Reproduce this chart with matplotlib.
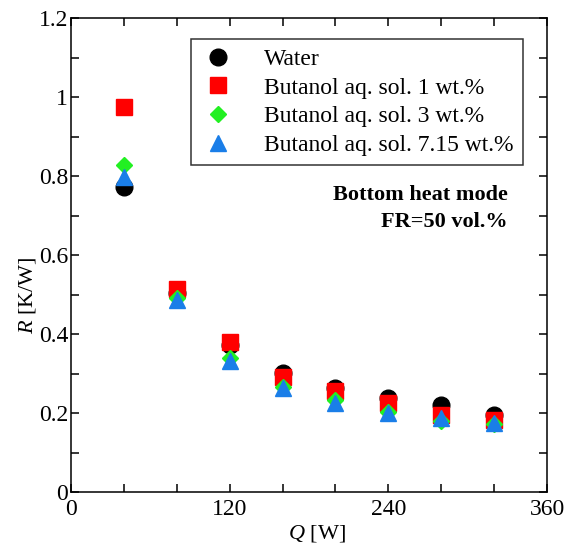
import matplotlib
matplotlib.use("Agg")
import matplotlib.pyplot as plt
from matplotlib.ticker import MultipleLocator, FuncFormatter

# heat input [W]
q = [40, 80, 120, 160, 200, 240, 280, 320]

# thermal resistance [K/W]
r_water = [0.773, 0.505, 0.372, 0.301, 0.264, 0.239, 0.220, 0.194]
r_but1 = [0.975, 0.514, 0.380, 0.292, 0.256, 0.226, 0.195, 0.182]
r_but3 = [0.828, 0.490, 0.340, 0.266, 0.232, 0.202, 0.180, 0.172]
r_but715 = [0.798, 0.486, 0.332, 0.263, 0.226, 0.199, 0.187, 0.175]

labels = ["Water", "Butanol aq. sol. 1 wt.%", "Butanol aq. sol. 3 wt.%",
          "Butanol aq. sol. 7.15 wt.%"]

plt.rcParams["font.family"] = ["Liberation Serif", "DejaVu Serif"]
plt.rcParams["mathtext.fontset"] = "custom"
plt.rcParams["mathtext.rm"] = "Liberation Serif"
plt.rcParams["mathtext.it"] = "Liberation Serif:italic"


def main():
    fig = plt.figure(figsize=(5.65, 5.46), dpi=100)
    ax = fig.add_axes([0.1257, 0.0989, 0.8425, 0.8681])

    ax.plot(q, r_water, "o", color="black", ms=12, label=labels[0], zorder=3)
    ax.plot(q, r_but1, "s", color="#ff0000", ms=12, label=labels[1], zorder=4)
    ax.plot(q, r_but3, "D", color="#22f022", ms=8, label=labels[2], zorder=5)
    ax.plot(q, r_but715, "^", color="#1a7ee8", ms=11, label=labels[3], zorder=6)

    ax.set_xlim(0, 360)
    ax.set_ylim(0, 1.2)
    ax.xaxis.set_major_locator(MultipleLocator(120))
    ax.xaxis.set_minor_locator(MultipleLocator(40))
    ax.yaxis.set_major_locator(MultipleLocator(0.2))
    ax.yaxis.set_minor_locator(MultipleLocator(0.1))
    ax.yaxis.set_major_formatter(FuncFormatter(lambda v, p: "%g" % round(v, 2)))

    ax.tick_params(which="both", direction="in", top=True, right=True,
                   length=6, width=1.1)
    ax.tick_params(axis="x", labelsize=17, pad=5)
    ax.tick_params(axis="y", labelsize=17, pad=2)
    for s in ax.spines.values():
        s.set_linewidth(1.1)

    ax.set_xlabel(r"$Q$ [W]", fontsize=16)
    ax.set_ylabel(r"$R$ [K/W]", fontsize=16)
    ax.xaxis.set_label_coords(0.517, -0.066)
    ax.yaxis.set_label_coords(-0.07, 0.416)

    leg = ax.legend(loc="upper right", bbox_to_anchor=(0.9496, 0.9557),
                    borderaxespad=0, fontsize=17, frameon=True, fancybox=False,
                    edgecolor="black", handletextpad=1.2, labelspacing=0.3,
                    borderpad=0.4, handlelength=1.5)
    leg.get_frame().set_linewidth(1.1)

    ax.text(0.918, 0.598, "Bottom heat mode\nFR=50 vol.%", transform=ax.transAxes,
            ha="right", va="center", multialignment="right", fontsize=16,
            fontweight="bold", linespacing=1.45)

    fig.savefig("out.png", dpi=100)


if __name__ == "__main__":
    main()
